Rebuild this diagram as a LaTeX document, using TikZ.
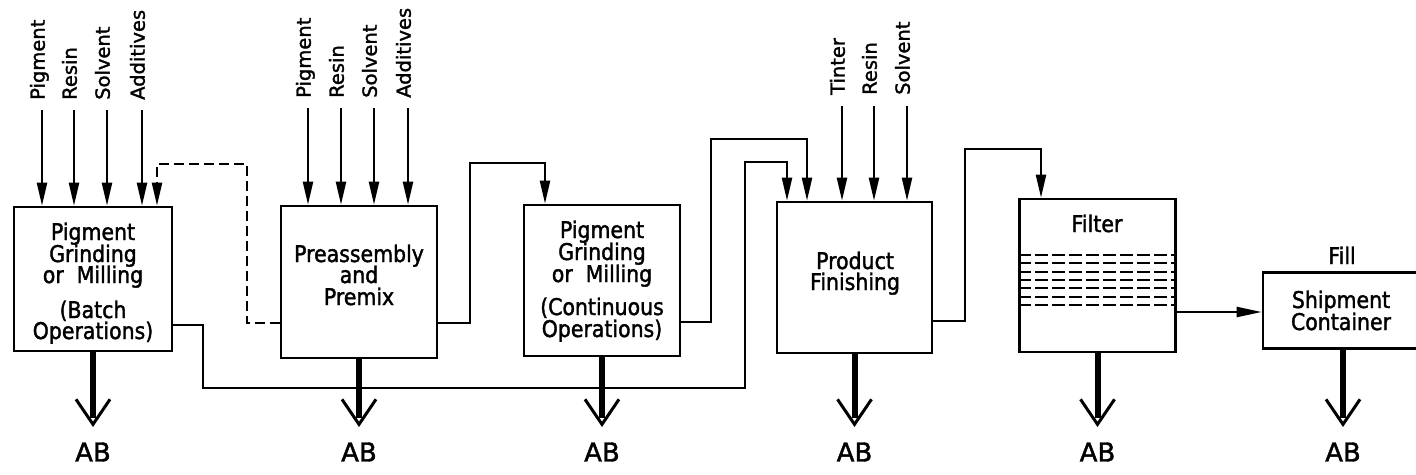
\documentclass[tikz,border=0pt]{standalone}
\usepackage{fontspec}
\setmainfont{DejaVu Sans}[FakeBold=1.6]
\newfontfamily\boxfont{DejaVu Sans}[FakeBold=1.6, FakeStretch=0.89]
\usetikzlibrary{arrows.meta,calc}
\begin{document}
\begin{tikzpicture}[x=1pt,y=-1pt,
  box/.style={draw, line width=2.6pt, inner sep=0pt},
  conn/.style={line width=2.2pt},
  arr/.style={conn, -{Triangle[length=23pt,width=10pt]}},
  harr/.style={conn, -{Triangle[length=25pt,width=10pt]}},
  dconn/.style={arr, dash pattern=on 10pt off 5pt},
  lbl/.style={font=\fontsize{19.5}{20}\selectfont, rotate=90, anchor=mid west, inner sep=0pt},
  txt/.style={font=\boxfont\fontsize{23}{24}\selectfont, anchor=base, inner sep=0pt},
  abtxt/.style={font=\fontsize{26}{28}\selectfont, inner sep=0pt},
  abstem/.style={line width=6pt},
  abv/.style={line width=3pt, line join=miter},
  fdash/.style={line width=2.2pt, dash pattern=on 13pt off 4pt},
]
\fill[white] (0,0) rectangle (1416,474);
\useasboundingbox (0,0) rectangle (1416,474);

% boxes
\node[box, minimum width=158pt, minimum height=144pt] (b1) at (93,279) {};
\node[box, minimum width=156pt, minimum height=152pt] (b2) at (359,282) {};
\node[box, minimum width=156pt, minimum height=151pt] (b3) at (602,280.5) {};
\node[box, minimum width=155pt, minimum height=151pt] (b4) at (854.5,277.5) {};
\node[box, minimum width=156pt, minimum height=153pt] (b5) at (1097.5,275.5) {};
\node[box, minimum width=160pt, minimum height=76pt] (b6) at (1343,310.5) {};

% box texts
\node[txt] (t1a) at (93,240) {Pigment};
\node[txt] (t1b) at (93,262) {Grinding};
\node[txt] (t1c) at (93,283) {or~ Milling};
\node[txt] (t1d) at (93,318) {(Batch};
\node[txt] (t1e) at (93,339) {Operations)};

\node[txt] (t2a) at (359,262) {Preassembly};
\node[txt] (t2b) at (359,283) {and};
\node[txt] (t2c) at (359,305) {Premix};

\node[txt] (t3a) at (602,238) {Pigment};
\node[txt] (t3b) at (602,260) {Grinding};
\node[txt] (t3c) at (602,282) {or~ Milling};
\node[txt] (t3d) at (602,315) {(Continuous};
\node[txt] (t3e) at (602,337) {Operations)};

\node[txt] (t4a) at (855,269) {Product};
\node[txt] (t4b) at (855,290) {Finishing};

\node[txt] (t5a) at (1097,232) {Filter};
\foreach \y in {255,263.3,271.6,280,288.3,296.6,305}
  \draw[fdash] (b5.west |- 0,\y) -- (b5.east |- 0,\y);

\node[txt] (t6f) at (1342,264) {Fill};
\node[txt] (t6a) at (1341,308) {Shipment};
\node[txt] (t6b) at (1341,330) {Container};

% inputs
\foreach \x/\n/\t in {42/pa/Pigment, 74/pb/Resin, 107/pc/Solvent, 142/pd/Additives} {
  \node[lbl] (\n) at (\x,100) {\t};
  \draw[arr, shorten <=10pt] (\n.mid west) -- (\n.mid west |- b1.north);
}
\foreach \x/\n/\t in {308/qa/Pigment, 341/qb/Resin, 374/qc/Solvent, 408/qd/Additives} {
  \node[lbl] (\n) at (\x,98) {\t};
  \draw[arr, shorten <=10pt] (\n.mid west) -- (\n.mid west |- b2.north);
}
\foreach \x/\n/\t in {842/ra/Tinter, 874/rb/Resin, 907/rc/Solvent} {
  \node[lbl] (\n) at (\x,95) {\t};
  \draw[arr, shorten <=11pt] (\n.mid west) -- (\n.mid west |- b4.north);
}

% connectors
\draw[dconn] (b2.west |- 0,323) -- (247,323) -- (247,164) -- (157,164) -- (157,0 |- b1.north);
\draw[arr] (b1.east |- 0,325) -- (203,325) -- (203,388) -- (745,388) -- (745,162) -- (787,162) -- (787,0 |- b4.north);
\draw[arr] (b2.east |- 0,323) -- (470,323) -- (470,163) -- (545,163) -- (545,0 |- b3.north);
\draw[arr] (b3.east |- 0,322) -- (711,322) -- (711,139) -- (807,139) -- (807,0 |- b4.north);
\draw[arr] (b4.east |- 0,321) -- (965,321) -- (965,149) -- (1041,149) -- (1041,0 |- b5.north);
\draw[harr] (b5.east |- 0,312) -- (b6.west |- 0,312);

% AB outputs
\foreach \b/\a in {b1/ab1, b2/ab2, b3/ab3, b4/ab4, b5/ab5, b6/ab6} {
  \node[abtxt] (\a) at (\b.south |- 0,452) {AB};
  \draw[abstem] (\b.south) -- ($(\a.north)+(0,-24)$);
  \draw[abv] ($(\a.north)+(-17,-43)$) -- ($(\a.north)+(0,-18)$) -- ($(\a.north)+(17,-43)$);
}
\end{tikzpicture}
\end{document}
